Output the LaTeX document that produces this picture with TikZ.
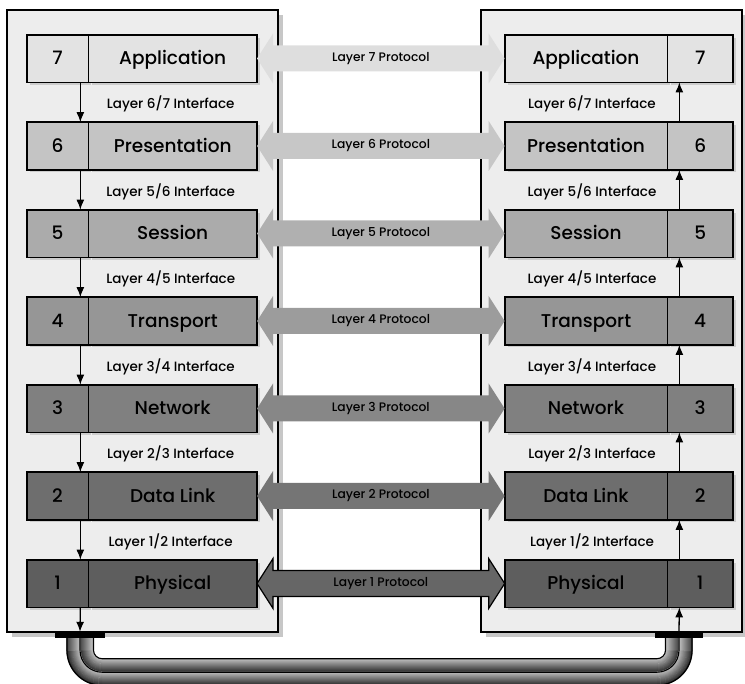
\documentclass[tikz,border=0pt]{standalone}
\usepackage{fontspec}
\setmainfont{Poppins Medium}
\usepackage{tikz}
\usetikzlibrary{positioning,calc,shadows,arrows.meta}

\tikzset{
  panel/.style={draw=black, line width=1.6pt, fill=black!7,
    drop shadow={shadow xshift=5pt, shadow yshift=-5pt, fill=black!22, opacity=1}},
  cell/.style={draw=black, line width=0.7pt, minimum height=47pt, inner sep=0pt,
    font=\fontsize{18.5}{21}\selectfont, text height=13pt, text depth=0pt,
    drop shadow={shadow xshift=3pt, shadow yshift=-3pt, fill=black!20, opacity=1}},
  numcell/.style={cell, minimum width=61pt},
  namecell/.style={cell, minimum width=168pt},
  rnamecell/.style={cell, minimum width=162pt},
  rnumcell/.style={cell, minimum width=65pt},
  iface/.style={font=\fontsize{13.5}{16}\selectfont, inner sep=0pt},
  proto/.style={font=\fontsize{12.3}{15}\selectfont, inner sep=0pt},
  flow/.style={-{Latex[length=10pt,width=8pt]}, line width=1.3pt},
  plug/.style={fill=black, minimum width=50pt, minimum height=6pt, inner sep=0pt},
}

\begin{document}
\begin{tikzpicture}[x=1pt, y=-1pt]
\useasboundingbox (0,0) rectangle (745,684);

% the two systems
\draw[panel] (7,10) rectangle (278,632);
\draw[panel] (481,10) rectangle (742,632);

% layer boxes
\foreach \n/\name/\shade in {7/Application/11, 6/Presentation/23, 5/Session/33,
    4/Transport/41, 3/Network/50, 2/Data Link/57, 1/Physical/63}{
  \pgfmathsetmacro{\yc}{58.5+87.5*(7-\n)}
  \node[numcell, fill=black!\shade] (LN\n) at (57.5,\yc) {\n};
  \node[namecell, fill=black!\shade, right=0pt of LN\n] (L\n) {\name};
  \draw[line width=1.6pt] (LN\n.north west) rectangle (L\n.south east);
  \node[rnamecell, fill=black!\shade] (R\n) at (586,\yc) {\name};
  \node[rnumcell, fill=black!\shade, right=0pt of R\n] (RN\n) {\n};
  \draw[line width=1.6pt] (R\n.north west) rectangle (RN\n.south east);
}

% peer protocols
\foreach \n/\shade in {7/13, 6/22, 5/31, 4/39, 3/47, 2/54, 1/60}{
  \fill[black!\shade] (L\n.east) -- ++(16,-25) -- ++(0,12)
    -- ($(R\n.west)+(-16,-13)$) -- ++(0,-12) -- (R\n.west) -- ++(-16,25)
    -- ++(0,-12) -- ($(L\n.east)+(16,13)$) -- ++(0,12) -- cycle;
  \node[proto] at ($(L\n.east)!0.5!(R\n.west)$) {Layer \n{} Protocol};
}
\draw[line width=1.2pt] (L1.east) -- ++(16,-25) -- ++(0,12)
  -- ($(R1.west)+(-16,-13)$) -- ++(0,-12) -- (R1.west) -- ++(-16,25)
  -- ++(0,-12) -- ($(L1.east)+(16,13)$) -- ++(0,12) -- cycle;

% interfaces between layers
\foreach \n/\m in {1/2, 2/3, 3/4, 4/5, 5/6, 6/7}{
  \draw[flow] ([xshift=-8pt]LN\m.south east) -- ([xshift=-8pt]LN\n.north east);
  \draw[flow] ([xshift=12pt]RN\n.north west) -- ([xshift=12pt]RN\m.south west);
  \node[iface] at ($(L\m.south)!0.5!(L\n.north)+(-2,2)$) {Layer \n/\m{} Interface};
  \node[iface] at ($(R\m.south)!0.5!(R\n.north)+(6,2)$) {Layer \n/\m{} Interface};
}

% physical medium
\node[plug] (lplug) at (80,635) {};
\node[plug, minimum width=48pt] (rplug) at (679,635) {};
\draw[flow] ([xshift=-8pt]LN1.south east) -- (lplug.north);
\draw[flow] (rplug.north) -- ([xshift=12pt]RN1.south west);
\foreach \d in {-13,...,13}{
  \pgfmathsetmacro{\t}{ifthenelse(\d<0, (\d+13)/13, \d/13)}
  \pgfmathsetmacro{\tone}{25+58*\t}
  \pgfmathsetmacro{\r}{22+\d}
  \draw[black!\tone, line width=1.4pt, rounded corners=\r pt]
    ($(lplug.south)+(-\d,0)$) -- ++(0,34+\d) -- ($(rplug.south)+(\d,34+\d)$) -- ($(rplug.south)+(\d,0)$);
}
\foreach \d in {-13.5,0,13}{
  \pgfmathsetmacro{\r}{22+\d}
  \draw[line width=1.1pt, rounded corners=\r pt]
    ($(lplug.south)+(-\d,0)$) -- ++(0,34+\d) -- ($(rplug.south)+(\d,34+\d)$) -- ($(rplug.south)+(\d,0)$);
}
\end{tikzpicture}
\end{document}
